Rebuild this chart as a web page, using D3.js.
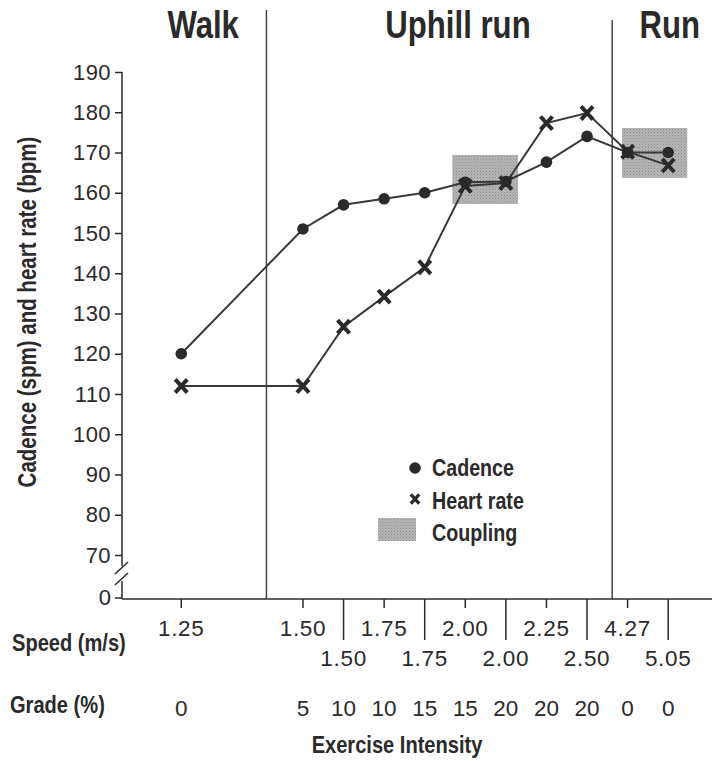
<!DOCTYPE html>
<html>
<head>
<meta charset="utf-8">
<title>Cadence and heart rate coupling</title>
<style type="text/css">
body {margin: 0; background: #fff;}
svg {display: block;}
.narrow {font-family: 'Liberation Sans', Arial, sans-serif; font-weight: bold; fill: #2a2a2a;}
.num {font-family: 'Liberation Sans', Arial, sans-serif; fill: #2a2a2a;}
</style>
<script src="https://cdnjs.cloudflare.com/ajax/libs/d3/7.8.5/d3.min.js"></script>
</head>
<body>
<svg width="712" height="761"></svg>
<script>
// conditions in order of exercise intensity
var speeds = [1.25, 1.50, 1.50, 1.75, 1.75, 2.00, 2.00, 2.25, 2.50, 4.27, 5.05];
var grades = [0, 5, 10, 10, 15, 15, 20, 20, 20, 0, 0];
var cadence = [120, 151, 157, 158.5, 160, 162.6, 162.8, 167.6, 174, 170, 170];
var heartRate = [112, 112, 126.7, 134.2, 141.5, 161.7, 162.4, 177.3, 179.8, 170.2, 166.8];
var yTicks = [70, 80, 90, 100, 110, 120, 130, 140, 150, 160, 170, 180, 190];
var phases = ["Walk", "Uphill run", "Run"];
var legendItems = ["Cadence", "Heart rate", "Coupling"];
// coupling zones, in intensity-axis units (x) and bpm/spm (y)
var couplingX = [[6.68, 8.3], [10.86, 12.47]];
var couplingY = [[157.2, 169.4], [163.7, 176.1]];

var svg = d3.select("svg");
var ink = "#2a2a2a";

// slot on the intensity axis: walk sits apart from the uphill conditions
function slot(i) { return i === 0 ? 0 : i + 2; }

var x = d3.scaleLinear().domain([-1.46, 13.08]).range([122, 712]);
var y = d3.scaleLinear().domain([70, 190]).range([555, 72]);
var yZero = 599;

// condensed bold label (helvetica condensed look)
function ntext(parent, tx, ty, size, anchor, str, rot) {
    return parent.append("text")
        .attr("class", "narrow")
        .attr("transform", "translate(" + tx + "," + ty + ")" + (rot ? " rotate(" + rot + ")" : "") + " scale(0.82,1)")
        .attr("text-anchor", anchor)
        .attr("font-size", size)
        .text(str);
}

// texture for coupling boxes
var pat = svg.append("defs").append("pattern")
    .attr("id", "stip").attr("width", 3).attr("height", 3)
    .attr("patternUnits", "userSpaceOnUse");
pat.append("rect").attr("width", 3).attr("height", 3).attr("fill", "#b6b6b6");
pat.append("rect").attr("width", 1).attr("height", 1).attr("fill", "#8c8c8c");
pat.append("rect").attr("x", 1.5).attr("y", 1.5).attr("width", 1).attr("height", 1).attr("fill", "#9a9a9a");

svg.append("g").selectAll("rect")
    .data(couplingX)
    .enter().append("rect")
    .attr("x", function(d) { return x(d[0]); })
    .attr("width", function(d) { return x(d[1]) - x(d[0]); })
    .attr("y", function(d, i) { return y(couplingY[i][1]); })
    .attr("height", function(d, i) { return y(couplingY[i][0]) - y(couplingY[i][1]); })
    .attr("fill", "url(#stip)");

// phase dividers and titles
var dividers = [[2.1, 10], [10.62, 20]];
svg.append("g").selectAll("line")
    .data(dividers)
    .enter().append("line")
    .attr("x1", function(d) { return x(d[0]); })
    .attr("x2", function(d) { return x(d[0]); })
    .attr("y1", function(d) { return d[1]; })
    .attr("y2", yZero)
    .attr("stroke", "#444").attr("stroke-width", 1.5);

var phaseX = [0.54, 6.82, 12.04];
var titles = svg.append("g");
phases.forEach(function(p, i) {
    ntext(titles, x(phaseX[i]), 38, 38, "middle", p);
});

// y axis
var yAxis = svg.append("g")
    .attr("transform", "translate(" + x.range()[0] + ",0)")
    .call(d3.axisLeft(y).tickValues(yTicks).tickSize(7).tickSizeOuter(0).tickPadding(4));
yAxis.select(".domain").remove();
yAxis.selectAll("line").attr("stroke", ink).attr("stroke-width", 1.5);
yAxis.selectAll("text")
    .attr("class", "num")
    .attr("font-size", 22)
    .attr("letter-spacing", 0.4)
    .attr("fill", ink);

var ax = x.range()[0];
var axis = svg.append("g").attr("stroke", ink).attr("stroke-width", 1.5).attr("fill", "none");
axis.append("path").attr("d", "M" + ax + "," + y(190) + "V566");
axis.append("path").attr("d", "M" + ax + ",581V" + yZero);
axis.append("path").attr("d", "M" + (ax - 7) + ",574L" + (ax + 6) + ",562");
axis.append("path").attr("d", "M" + (ax - 7) + ",585L" + (ax + 6) + ",573");
axis.append("path").attr("d", "M" + (ax - 7) + "," + (yZero - 1) + "H" + ax);
svg.append("text").attr("class", "num")
    .attr("x", ax - 11).attr("y", yZero - 2).attr("dy", "0.35em")
    .attr("text-anchor", "end").attr("font-size", 22)
    .text(0);

ntext(svg, 36, 312, 25, "middle", "Cadence (spm) and heart rate (bpm)", -90);

// x axis: upper row of speeds gets short ticks, lower row long ticks
axis.append("path").attr("d", "M" + ax + "," + yZero + "H712");
var idx = d3.range(speeds.length);
function upper(i) { return i === 0 || i % 2 === 1; }

svg.append("g").selectAll("line")
    .data(idx)
    .enter().append("line")
    .attr("x1", function(i) { return x(slot(i)); })
    .attr("x2", function(i) { return x(slot(i)); })
    .attr("y1", yZero)
    .attr("y2", function(i) { return upper(i) ? yZero + 9 : yZero + 41; })
    .attr("stroke", ink).attr("stroke-width", 1.5);

svg.append("g").selectAll("text")
    .data(idx)
    .enter().append("text")
    .attr("class", "num")
    .attr("x", function(i) { return x(slot(i)); })
    .attr("y", function(i) { return upper(i) ? 636 : 666; })
    .attr("text-anchor", "middle")
    .attr("font-size", 22.5)
    .attr("letter-spacing", 0.7)
    .text(function(i) { return speeds[i].toFixed(2); });

svg.append("g").selectAll("text")
    .data(idx)
    .enter().append("text")
    .attr("class", "num")
    .attr("x", function(i) { return x(slot(i)); })
    .attr("y", 716)
    .attr("text-anchor", "middle")
    .attr("font-size", 22.5)
    .text(function(i) { return grades[i]; });

ntext(svg, 12, 651, 24.5, "start", "Speed (m/s)");
ntext(svg, 10, 713, 24.5, "start", "Grade (%)");
ntext(svg, 397, 753, 24.5, "middle", "Exercise Intensity");

// series
var line = d3.line()
    .x(function(d, i) { return x(slot(i)); })
    .y(function(d) { return y(d); });

[cadence, heartRate].forEach(function(s) {
    svg.append("path").datum(s)
        .attr("d", line)
        .attr("fill", "none")
        .attr("stroke", "#383838")
        .attr("stroke-width", 2);
});

function cross(sel, r, w) {
    sel.append("path")
        .attr("d", "M" + (-r) + "," + (-r * 1.1) + "L" + r + "," + (r * 1.1) +
                   "M" + (-r) + "," + (r * 1.1) + "L" + r + "," + (-r * 1.1))
        .attr("stroke", ink).attr("stroke-width", w).attr("fill", "none");
}

svg.append("g").selectAll("circle")
    .data(cadence)
    .enter().append("circle")
    .attr("cx", function(d, i) { return x(slot(i)); })
    .attr("cy", function(d) { return y(d); })
    .attr("r", 5.8)
    .attr("fill", ink);

svg.append("g").selectAll("g")
    .data(heartRate)
    .enter().append("g")
    .attr("transform", function(d, i) { return "translate(" + x(slot(i)) + "," + y(d) + ")"; })
    .each(function() { cross(d3.select(this), 6, 4); });

// legend
var lg = svg.append("g").attr("transform", "translate(415,468)");
lg.append("circle").attr("r", 5.8).attr("fill", ink);
var lx = lg.append("g").attr("transform", "translate(0,31)");
cross(lx, 4.2, 3.2);
lg.append("rect").attr("x", -37).attr("y", 50).attr("width", 38).attr("height", 23).attr("fill", "url(#stip)");
legendItems.forEach(function(t, i) {
    ntext(lg, 17, 8 + i * 32.5, 24, "start", t);
});
</script>
</body>
</html>
